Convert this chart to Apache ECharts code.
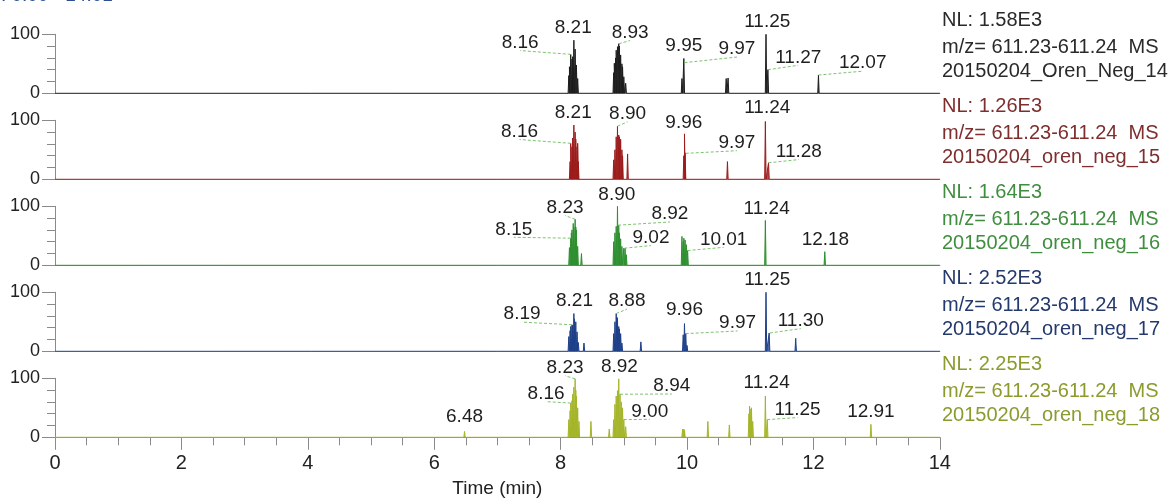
<!DOCTYPE html>
<html><head><meta charset="utf-8">
<script src="https://cdn.jsdelivr.net/npm/echarts@6/dist/echarts.min.js"></script>
<style>html,body{margin:0;padding:0;background:#fff}#c{width:1172px;height:500px}</style>
</head><body><div id="c"></div>
<script>
// ---------- data ----------
const rtRange = 'RT: 0.00 - 14.01';
const massRange = 'm/z= 611.23-611.24  MS';
const traceFiles = ['20150204_Oren_Neg_14','20150204_oren_neg_15','20150204_oren_neg_16','20150204_oren_neg_17','20150204_oren_neg_18'];
const nlValues = ['NL: 1.58E3','NL: 1.26E3','NL: 1.64E3','NL: 2.52E3','NL: 2.25E3'];
const xAxisTitle = 'Time (min)';

// peaks: [retention time (min), relative abundance (%)]
const peaks14 = [[8.13,30],[8.14,45],[8.16,66],[8.18,58],[8.19,62],[8.21,90],[8.23,75],[8.25,48],[8.27,25],
  [8.84,35],[8.85,51],[8.87,60],[8.88,73],[8.90,79],[8.92,84],[8.93,80],[8.95,65],[8.97,50],[8.98,45],[9.00,28],[9.03,17],
  [9.92,25],[9.95,59],[10.62,25],[10.65,26],[11.25,100],[11.28,40],[12.08,31]];
const peaks15 = [[8.15,30],[8.16,61],[8.18,55],[8.19,70],[8.21,92],[8.23,80],[8.24,68],[8.26,55],[8.27,61],[8.28,30],
  [8.84,33],[8.86,50],[8.88,72],[8.90,90],[8.92,75],[8.93,72],[8.95,68],[8.97,50],[8.98,40],[9.06,43],
  [9.95,40],[9.96,77],[9.97,45],[10.64,30],[11.24,98],[11.29,28]];
const peaks16 = [[8.14,30],[8.16,46],[8.17,55],[8.18,60],[8.20,71],[8.21,65],[8.23,78],[8.24,65],[8.25,60],[8.27,32],[8.33,20],
  [8.84,40],[8.86,55],[8.88,66],[8.90,100],[8.92,68],[8.93,55],[8.95,45],[8.97,32],[9.00,29],[9.02,29],[9.04,18],
  [9.92,49],[9.94,40],[9.95,46],[9.97,43],[9.99,35],[10.01,25],[11.24,76],[12.18,23]];
const peaks17 = [[8.13,25],[8.15,35],[8.16,42],[8.18,45],[8.19,44],[8.21,64],[8.22,55],[8.24,50],[8.26,33],[8.28,15],[8.37,14],
  [8.84,30],[8.86,50],[8.88,64],[8.89,58],[8.90,56],[8.92,42],[8.93,38],[8.95,30],[8.97,14],[9.27,16],
  [9.94,28],[9.96,47],[9.98,30],[10.00,10],[11.25,100],[11.30,31],[11.72,22]];
const peaks18 = [[6.48,10],[8.13,30],[8.15,45],[8.16,58],[8.18,62],[8.19,73],[8.21,85],[8.23,99],[8.24,80],[8.25,70],[8.27,50],[8.29,27],
  [8.48,27],[8.77,14],[8.84,30],[8.86,56],[8.88,70],[8.90,79],[8.92,99],[8.94,73],[8.96,60],[8.98,50],[9.00,30],[9.03,18],
  [9.93,14],[9.95,14],[9.96,12],[10.33,27],[10.67,21],[10.98,40],[10.99,53],[11.01,48],[11.02,50],[11.04,27],
  [11.24,70],[11.27,30],[12.91,22]];

// peak annotations: [label, peak time, peak height]
const ann14 = [['8.16',8.16,66],['8.21',8.21,90],['8.93',8.92,84],['9.95',9.95,59],['9.97',9.96,52],['11.25',11.25,100],['11.27',11.28,40],['12.07',12.08,31]];
const ann15 = [['8.21',8.21,92],['8.16',8.16,61],['8.90',8.90,90],['9.96',9.96,77],['9.97',9.98,44],['11.24',11.24,98],['11.28',11.29,28]];
const ann16 = [['8.23',8.23,78],['8.15',8.16,46],['8.90',8.90,100],['8.92',8.91,68],['9.02',9.01,29],['10.01',10.01,25],['11.24',11.24,76],['12.18',12.18,23]];
const ann17 = [['8.21',8.21,64],['8.19',8.18,45],['8.88',8.88,64],['9.96',9.96,47],['9.97',9.98,30],['11.25',11.25,100],['11.30',11.31,31]];
const ann18 = [['6.48',6.48,10],['8.23',8.23,99],['8.16',8.16,58],['8.92',8.92,99],['8.94',8.94,73],['9.00',9.00,30],['11.24',11.24,70],['11.25',11.27,30],['12.91',12.91,22]];

// ---------- layout (label placement, in axis units) ----------
const pos14 = [[7.36,86],[8.20,111],[9.10,103],[9.95,80],[10.79,75],[11.27,121],[11.76,61],[12.78,51]];
const pos15 = [[8.20,112],[7.35,81],[9.06,111],[9.95,96],[10.79,62],[11.27,122],[11.77,47]];
const pos16 = [[8.07,98],[7.26,61],[8.89,120],[9.73,87],[9.43,47],[10.58,44],[11.26,95],[12.19,44]];
const pos17 = [[8.22,85],[7.39,63],[9.05,85],[9.96,71],[10.80,48],[11.27,122],[11.80,52]];
const pos18 = [[6.48,34],[8.07,118],[7.77,74],[8.93,120],[9.76,87],[9.41,44],[11.26,93],[11.75,47],[12.91,44]];

const traces = [peaks14, peaks15, peaks16, peaks17, peaks18];
const anns = [ann14, ann15, ann16, ann17, ann18];
const poss = [pos14, pos15, pos16, pos17, pos18];

const peakColors = ['#1e1e1e','#9c1c1c','#2f8f30','#1f4088','#a5b52a'];
const textColors = ['#2a2a2a','#7f2e2e','#3f8e3f','#24396c','#8c9b2e'];
const FONT = "'Liberation Sans', Arial, sans-serif";
const AX = '#8a8a8a';
const GL = 55, GW = 884.8, GT = 34.3, STEP = 86, GH = 59;

function spikes(peaks) {
  const w = 0.011;
  const d = [[0, 0]];
  peaks.forEach(([t, h]) => { d.push([t - w, 0], [t, h], [t + w, 0]); });
  d.push([14, 0]);
  return d;
}

const grids = [], xAxes = [], yAxes = [], series = [], graphics = [];
traces.forEach((peaks, i) => {
  const last = i === traces.length - 1;
  grids.push({ left: GL, width: GW, top: GT + STEP * i, height: GH, outerBoundsMode: 'none', containLabel: false });
  xAxes.push({
    type: 'value', gridIndex: i, min: 0, max: 14, interval: 2,
    axisLine: { show: true, onZero: false, lineStyle: { color: AX, width: 1 } },
    axisTick: { show: last, length: 12.5, lineStyle: { color: AX } },
    minorTick: { show: last, splitNumber: 4, length: 8, lineStyle: { color: AX } },
    axisLabel: { show: last, fontSize: 20, fontFamily: FONT, color: '#222', margin: 16 },
    splitLine: { show: false }, minorSplitLine: { show: false },
    name: last ? xAxisTitle : '', nameLocation: 'middle', nameGap: 42,
    nameTextStyle: { fontSize: 19, fontFamily: FONT, color: '#222', verticalAlign: 'top' }
  });
  yAxes.push({
    type: 'value', gridIndex: i, min: 0, max: 100, interval: 100,
    axisLine: { show: true, lineStyle: { color: AX, width: 1 } },
    axisTick: { show: true, length: 13, lineStyle: { color: AX } },
    minorTick: { show: true, splitNumber: 5, length: 8, lineStyle: { color: AX } },
    axisLabel: { fontSize: 18, fontFamily: FONT, color: '#222', margin: 15 },
    splitLine: { show: false }, minorSplitLine: { show: false }
  });
  series.push({
    type: 'line', xAxisIndex: i, yAxisIndex: i, data: spikes(peaks), symbol: 'none',
    lineStyle: { color: peakColors[i], width: 1 },
    areaStyle: { color: peakColors[i], opacity: 0.8 },
    animation: false, silent: true, z: 2
  });
  const a = anns[i], p = poss[i];
  series.push({
    type: 'custom', xAxisIndex: i, yAxisIndex: i, clip: false, z: 5, silent: true, animation: false,
    data: a.map((r, k) => [r[1], r[2], p[k][0], p[k][1]]),
    renderItem: (params, api) => {
      const pk = api.coord([api.value(0), api.value(1)]);
      const c = api.coord([api.value(2), api.value(3)]);
      const children = [];
      if (Math.abs(c[0] - pk[0]) > 5) {
        children.push({ type: 'line', shape: { x1: pk[0], y1: pk[1], x2: c[0], y2: c[1] + 8 },
          style: { stroke: '#7cc46e', lineWidth: 1, lineDash: [3, 2] } });
      }
      children.push({ type: 'text', style: { text: a[params.dataIndex][0], x: c[0], y: c[1],
        align: 'center', verticalAlign: 'middle', fontSize: 19, fontFamily: FONT, fill: '#1e1e1e' } });
      return { type: 'group', children };
    }
  });
  const lines = [nlValues[i], massRange, traceFiles[i]];
  const ys = [20, 47, 71];
  lines.forEach((t, k) => {
    graphics.push({ type: 'text', x: 942, y: ys[k] + STEP * i, silent: true,
      style: { text: t, fill: textColors[i], fontSize: 20, fontFamily: FONT, verticalAlign: 'middle', align: 'left' } });
  });
});
graphics.push({ type: 'text', x: -22, y: -4, silent: true,
  style: { text: rtRange, fill: '#2d4f8e', fontSize: 19, fontFamily: FONT, verticalAlign: 'middle', align: 'left' } });

const chart = echarts.init(document.getElementById('c'), null, { renderer: 'canvas' });
chart.setOption({
  animation: false,
  backgroundColor: '#ffffff',
  textStyle: { fontFamily: FONT },
  grid: grids, xAxis: xAxes, yAxis: yAxes, series: series, graphic: graphics
});
</script></body></html>
